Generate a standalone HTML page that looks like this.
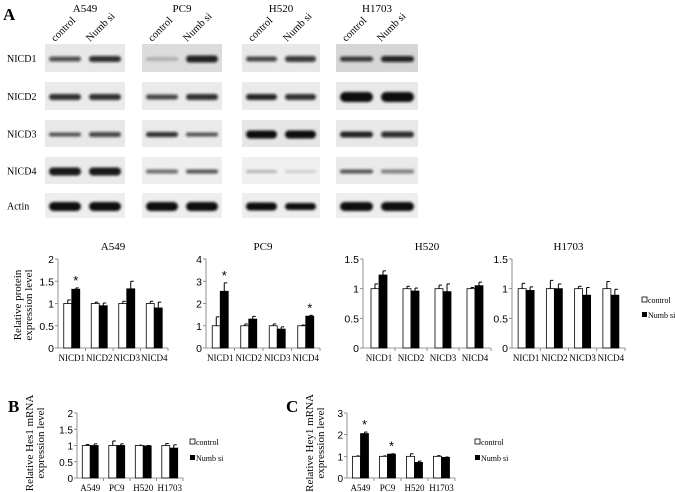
<!DOCTYPE html>
<html><head><meta charset="utf-8"><style>
html,body{margin:0;padding:0;background:#fff;}
svg{display:block;font-family:"Liberation Serif",serif;}
</style></head><body>
<svg id="fig" width="675" height="492" viewBox="0 0 675 492" xmlns="http://www.w3.org/2000/svg">
<defs><filter id="blur" x="-20%" y="-100%" width="140%" height="300%"><feGaussianBlur stdDeviation="1.3"/></filter></defs>
<text x="3" y="20" font-size="17" font-weight="bold">A</text>
<text x="8" y="412" font-size="17" font-weight="bold">B</text>
<text x="286" y="412" font-size="17" font-weight="bold">C</text>
<g id="blots"></g>
<g id="charts"></g>
</svg>
<script>
const NS="http://www.w3.org/2000/svg";
const svg=document.getElementById('fig');
function mk(tag,attrs,parent,txt){const e=document.createElementNS(NS,tag);for(const k in attrs)e.setAttribute(k,attrs[k]);if(txt!==undefined)e.textContent=txt;(parent||svg).appendChild(e);return e;}

// ---- Blots ----
const cellLines=["A549","PC9","H520","H1703"];
const proteins=["NICD1","NICD2","NICD3","NICD4","Actin"];
const blotCols=[[45,125],[142,222],[242,320],[336,418]];
const blotRows=[[44,72],[82,110],[120,147],[157,184],[193,218]];
const bandStrength=[
 [[0.7,5,0.85,6],[0.85,6,0.85,6],[0.7,4,0.75,5],[0.95,8,0.95,8],[1,9,1,9]],
 [[0.2,4,0.9,7],[0.75,5,0.85,6],[0.85,5,0.7,4],[0.6,4,0.7,4],[1,9,1,9]],
 [[0.75,5,0.8,6],[0.9,6,0.85,6],[1,8,1,8],[0.25,3,0.15,3],[1,8,1,7]],
 [[0.8,5,0.9,6],[1,10,1,10],[0.9,6,0.85,6],[0.7,4,0.5,4],[1,9,1,9]]];
const blotBg=[["#e8e8e8","#eaeaea","#e8e8e8","#eaeaea","#eeeeee"],["#dcdcdc","#eaeaea","#eaeaea","#eeeeee","#eeeeee"],["#e8e8e8","#eaeaea","#e6e6e6","#f0f0f0","#eeeeee"],["#d6d6d6","#e8e8e8","#e8e8e8","#eaeaea","#eeeeee"]];
const bg=document.getElementById('blots');
cellLines.forEach((cl,c)=>{
  const [x0,x1]=blotCols[c];const cx=(x0+x1)/2;
  const t=mk('text',{x:cx,y:12,'font-size':11,'text-anchor':'middle'},bg,cl);
  
  
  [["control",x0+10],["Numb si",x0+45]].forEach(([s,lx])=>{
    const l=mk('text',{x:lx,y:42,'font-size':10.5,transform:`rotate(-45 ${lx} 42)`},bg,s);
    
    
  });
  proteins.forEach((p,r)=>{
    const [y0,y1]=blotRows[r];
    const rc=mk('rect',{x:x0,y:y0,width:x1-x0,height:y1-y0,fill:blotBg[c][r]},bg);
    
    
    const b=bandStrength[c][r];const ym=(y0+y1)/2+1;const w=(x1-x0)/2-8;
    [[x0+4+w/2,b[0],b[1]],[x1-4-w/2,b[2],b[3]]].forEach(([bx,s,h])=>{
      const e=mk('rect',{x:bx-w/2,y:ym-h/2,width:w,height:h,rx:h/2,fill:'#111','fill-opacity':s,filter:'url(#blur)'},bg);
      
      
    });
  });
});
proteins.forEach((p,r)=>{
  const t=mk('text',{x:7,y:(blotRows[r][0]+blotRows[r][1])/2+4,'font-size':10},bg,p);
  
  
});

// ---- Chart data ----
const nicdCats=["NICD1","NICD2","NICD3","NICD4"];
const a549Ctrl=[1,1,1,1], a549CtrlErr=[0.08,0.03,0.05,0.05];
const a549Numb=[1.32,0.95,1.33,0.9], a549NumbErr=[0.03,0.06,0.17,0.13];
const pc9Ctrl=[1,1,1,1], pc9CtrlErr=[0.4,0.08,0.08,0.03];
const pc9Numb=[2.55,1.3,0.85,1.43], pc9NumbErr=[0.38,0.12,0.1,0.04];
const h520Ctrl=[1,1,1,1], h520CtrlErr=[0.08,0.04,0.06,0.02];
const h520Numb=[1.23,0.96,0.95,1.05], h520NumbErr=[0.07,0.05,0.13,0.06];
const h1703Ctrl=[1,1,1,1], h1703CtrlErr=[0.09,0.14,0.04,0.12];
const h1703Numb=[0.97,1.0,0.89,0.89], h1703NumbErr=[0.06,0.08,0.13,0.1];
const lineCats=["A549","PC9","H520","H1703"];
const hes1Ctrl=[1,1,1,1], hes1CtrlErr=[0.03,0.14,0.01,0.06];
const hes1Numb=[1,1,0.99,0.92], hes1NumbErr=[0.05,0.05,0.01,0.1];
const hey1Ctrl=[1,1,1,1], hey1CtrlErr=[0.02,0.02,0.12,0.03];
const hey1Numb=[2.05,1.1,0.72,0.95], hey1NumbErr=[0.07,0.02,0.06,0.02];
const ticks2=["0","0.5","1","1.5","2"], ticks4=["0","1","2","3","4"], ticks15=["0","0.5","1","1.5"], ticks3=["0","1","2","3"];
const stars={a549:[0],pc9:[0,3],h520:[],h1703:[],hes1:[],hey1:[0,1]};

const cg=document.getElementById('charts');
function chart(o){
  const {id,x0,x1,yt,yb,ticks,cats,ctrl,ctrlE,numb,numbE,title,fs}=o;
  const g=mk('g',{},cg);
  
  
  const max=parseFloat(ticks[ticks.length-1]);
  const y=v=>yb-(v/max)*(yb-yt);
  const gw=(x1-x0)/cats.length;const bw=Math.min(8,gw*0.3);
  ticks.forEach(t=>{
    const v=parseFloat(t);
    mk('line',{x1:x0-3,x2:x0,y1:y(v),y2:y(v),stroke:'#777','stroke-width':0.8},g);
    const tl=mk('text',{x:x0-4,y:y(v)+4,'font-size':fs||10.5,'text-anchor':'end','font-family':'Liberation Sans, sans-serif'},g,t);
    
    
  });
  mk('line',{x1:x0,x2:x0,y1:yt,y2:yb,stroke:'#777','stroke-width':0.8},g);
  mk('line',{x1:x0,x2:x1,y1:yb,y2:yb,stroke:'#777','stroke-width':0.8},g);
  cats.forEach((c,i)=>{
    const cx=x0+gw*(i+0.5);
    mk('line',{x1:x0+gw*(i+1),x2:x0+gw*(i+1),y1:yb,y2:yb+3,stroke:'#777','stroke-width':0.8},g);
    const cl=mk('text',{x:cx,y:yb+13,'font-size':9,'text-anchor':'middle'},g,c);
    
    
    [[ctrl[i],ctrlE[i],cx-bw,'#fff','control'],[numb[i],numbE[i],cx,'#000','numb-si']].forEach(([v,e,bx,f,n])=>{
      const ex=bx+bw/2;
      mk('line',{x1:ex,x2:ex,y1:y(v),y2:y(v+e),stroke:'#000','stroke-width':1},g);
      mk('line',{x1:ex,x2:ex+3,y1:y(v+e),y2:y(v+e),stroke:'#000','stroke-width':1},g);
      const r=mk('rect',{x:bx,y:y(v),width:bw,height:yb-y(v),fill:f,stroke:'#000','stroke-width':0.8},g);
      
      
    });
    if(stars[id].includes(i)){
      const s=mk('text',{x:cx+bw/2,y:y(numb[i]+numbE[i])-3,'font-size':13,'text-anchor':'middle','font-family':'Liberation Sans, sans-serif'},g,'*');
      
      
    }
  });
  if(title){
    const t=mk('text',{x:(x0+x1)/2,y:250,'font-size':11,'text-anchor':'middle'},g,title);
    
    
  }
}
chart({id:'a549',x0:58,x1:168,yt:259,yb:348,ticks:ticks2,cats:nicdCats,ctrl:a549Ctrl,ctrlE:a549CtrlErr,numb:a549Numb,numbE:a549NumbErr,title:'A549'});
chart({id:'pc9',x0:206,x1:320,yt:259,yb:348,ticks:ticks4,cats:nicdCats,ctrl:pc9Ctrl,ctrlE:pc9CtrlErr,numb:pc9Numb,numbE:pc9NumbErr,title:'PC9'});
chart({id:'h520',x0:363,x1:491,yt:259,yb:348,ticks:ticks15,cats:nicdCats,ctrl:h520Ctrl,ctrlE:h520CtrlErr,numb:h520Numb,numbE:h520NumbErr,title:'H520'});
chart({id:'h1703',x0:512,x1:625,yt:259,yb:348,ticks:ticks15,cats:nicdCats,ctrl:h1703Ctrl,ctrlE:h1703CtrlErr,numb:h1703Numb,numbE:h1703NumbErr,title:'H1703'});
chart({id:'hes1',x0:77,x1:183,yt:413,yb:478,ticks:ticks2,cats:lineCats,ctrl:hes1Ctrl,ctrlE:hes1CtrlErr,numb:hes1Numb,numbE:hes1NumbErr,fs:10});
chart({id:'hey1',x0:347,x1:455,yt:413,yb:478,ticks:ticks3,cats:lineCats,ctrl:hey1Ctrl,ctrlE:hey1CtrlErr,numb:hey1Numb,numbE:hey1NumbErr,fs:10});

function ytitle(lines,x,yc,fs,name){
  const t=mk('text',{'font-size':fs,'text-anchor':'middle',transform:`translate(${x},${yc}) rotate(-90)`},cg);
  
  
  lines.forEach((l,i)=>{mk('tspan',{x:0,dy:i?fs:0},t,l);});
}
ytitle(["Relative protein","expression level"],21,305,11,'y-axis-title-protein');
ytitle(["Relative Hes1 mRNA","expression level"],33,443,11,'y-axis-title-hes1');
ytitle(["Relative Hey1 mRNA","expression level"],313,443,11,'y-axis-title-hey1');

function legend(x,y1,y2,name){
  const g=mk('g',{},cg);
  
  
  mk('rect',{x:x,y:y1-6,width:5,height:5,fill:'#fff',stroke:'#000','stroke-width':0.8},g);
  const a=mk('text',{x:x+6,y:y1,'font-size':8},g,'control');
  
  
  mk('rect',{x:x,y:y2-6,width:5,height:5,fill:'#000'},g);
  const b=mk('text',{x:x+6,y:y2,'font-size':8},g,'Numb si');
  
  
}
legend(642,303,318,'legend-a');
legend(190,445,461,'legend-b');
legend(475,445,461,'legend-c');
</script>
</body></html>
